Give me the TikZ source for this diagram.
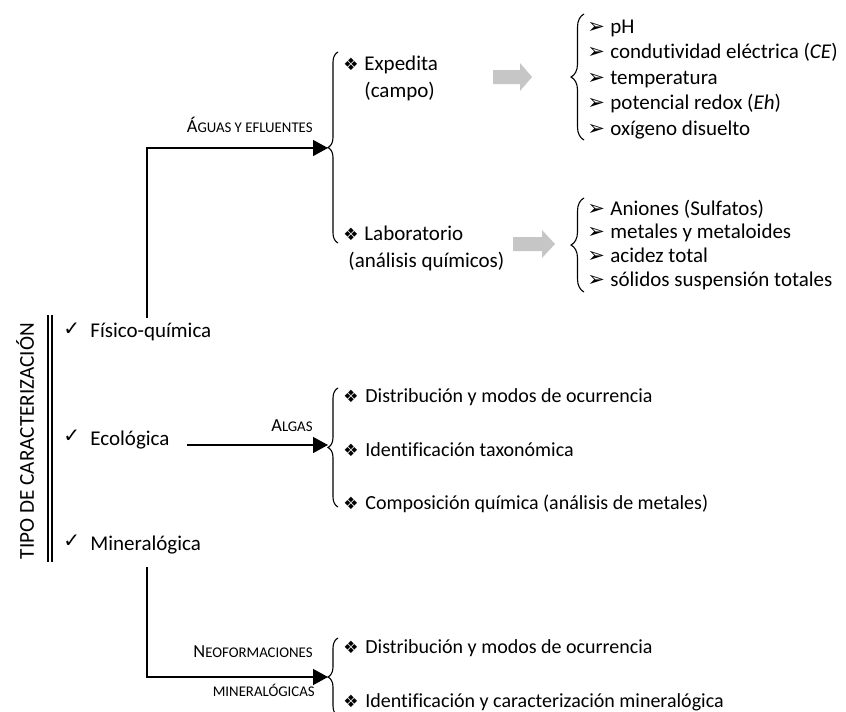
\documentclass[tikz,border=0pt]{standalone}
\usepackage{fontspec}
\setmainfont{Carlito}[Ligatures=NoCommon]
\newfontfamily\symf{DejaVu Sans}
\usetikzlibrary{arrows.meta,decorations.pathreplacing}
\newcommand\mydia{{\symf\fontsize{8.5}{9}\selectfont ❖}}
\newcommand\myarr{{\symf\fontsize{10.5}{11}\selectfont ➢}}
\newcommand\mychk{{\symf\fontsize{10}{11}\selectfont ✓}}
\newcommand\bigc[1]{{\fontsize{9.2}{10}\selectfont #1}}
\newcommand\smc[1]{{\fontsize{7.4}{8}\selectfont #1}}
\begin{document}
\begin{tikzpicture}[x=0.5pt,y=-0.5pt,
  txt/.style={anchor=base west, inner sep=0pt, font=\fontsize{10.5}{12}\selectfont},
  itm/.style={anchor=base west, inner sep=0pt, font=\fontsize{10}{12}\selectfont},
  lbl/.style={anchor=base east, inner sep=0pt},
  conn/.style={line width=0.7pt, -{Triangle[length=7.5pt,width=8pt]}},
  plainline/.style={line width=0.65pt},
  brc/.style={line width=0.55pt, decorate, decoration={brace, amplitude=#1}},
  brc/.default=5pt,
  garrow/.style={fill=gray!45, draw=none}
]
\useasboundingbox (0,0) rectangle (846,712);

% left title
\node[rotate=90, inner sep=0pt, font=\fontsize{10.6}{12}\selectfont] (title) at (25,441) {TIPO DE CARACTERIZACIÓN};
\draw[plainline] (48,315) -- (48,562);
\draw[plainline] (52,315) -- (52,562);

% categories
\node[txt] (c1) at (63,335) {\mychk};
\node[txt] (c2) at (63,442) {\mychk};
\node[txt] (c3) at (63,547) {\mychk};
\node[txt] (fq) at (90,337) {Físico-química};
\node[txt] (eco) at (90,445) {Ecológica};
\node[txt] (min) at (90,550) {Mineralógica};

% connector coordinates
\coordinate (fqtop) at (147,318);
\coordinate (ecoR) at (187,445);
\coordinate (minB) at (147,567);
\coordinate (t1) at (328,148);
\coordinate (t3) at (328,445);
\coordinate (t5) at (328,677);

\draw[conn] (fqtop) |- (t1);
\draw[conn] (ecoR) -- (t3);
\draw[conn] (minB) |- (t5);

% labels on connectors
\node[lbl] (l1) at (313,132) {\bigc{Á}\smc{GUAS Y EFLUENTES}};
\node[lbl] (l2) at (313,431) {\bigc{A}\smc{LGAS}};
\node[lbl] (l3) at (313,657) {\bigc{N}\smc{EOFORMACIONES}};
\node[lbl] (l4) at (315,696) {\smc{MINERALÓGICAS}};

% braces
\draw[brc=5pt] (338,243) -- (338,52);
\draw[brc=5pt] (338,507) -- (338,388);
\draw[brc=5pt] (338,716) -- (338,638);
\draw[brc=6.5pt] (584,140) -- (584,14);
\draw[brc=6.5pt] (584,292) -- (584,198);

% water branch
\node[txt] (d1) at (343,70) {\mydia};
\node[txt] (exp) at (364,70) {Expedita};
\node[txt] (exp2) at (364,97) {(campo)};
\node[txt] (d2) at (343,240) {\mydia};
\node[txt] (lab) at (364,240) {Laboratorio};
\node[txt] (lab2) at (348,267) {(análisis químicos)};

% gray arrows
\fill[garrow] (493,70) -- (520,70) -- (520,63) -- (532,77) -- (520,91) -- (520,84) -- (493,84) -- cycle;
\fill[garrow] (513,237) -- (542,237) -- (542,230) -- (555,244) -- (542,258) -- (542,251) -- (513,251) -- cycle;

% top list
\node[txt] (a1) at (587,33) {\myarr};
\node[txt] (p1) at (610,33) {pH};
\node[txt] (a2) at (587,58.5) {\myarr};
\node[txt] (p2) at (610,58.5) {condutividad eléctrica (\textit{CE})};
\node[txt] (a3) at (587,84) {\myarr};
\node[txt] (p3) at (610,84) {temperatura};
\node[txt] (a4) at (587,109.5) {\myarr};
\node[txt] (p4) at (610,109.5) {potencial redox (\textit{Eh})};
\node[txt] (a5) at (587,135) {\myarr};
\node[txt] (p5) at (610,135) {oxígeno disuelto};

% bottom list
\node[txt] (b1) at (587,215) {\myarr};
\node[txt] (q1) at (610,215) {Aniones (Sulfatos)};
\node[txt] (b2) at (587,238.5) {\myarr};
\node[txt] (q2) at (610,238.5) {metales y metaloides};
\node[txt] (b3) at (587,262) {\myarr};
\node[txt] (q3) at (610,262) {acidez total};
\node[txt] (b4) at (587,286) {\myarr};
\node[txt] (q4) at (610,286) {sólidos suspensión totales};

% algae branch
\node[txt] (e1) at (343,402) {\mydia};
\node[itm] (f1) at (365,402) {Distribución y modos de ocurrencia};
\node[txt] (e2) at (343,456) {\mydia};
\node[itm] (f2) at (365,456) {Identificación taxonómica};
\node[txt] (e3) at (343,509) {\mydia};
\node[itm] (f3) at (365,509) {Composición química (análisis de metales)};

% mineral branch
\node[txt] (g1) at (343,653) {\mydia};
\node[itm] (h1) at (365,653) {Distribución y modos de ocurrencia};
\node[txt] (g2) at (343,707) {\mydia};
\node[itm] (h2) at (365,707) {Identificación y caracterización mineralógica};
\end{tikzpicture}
\end{document}
